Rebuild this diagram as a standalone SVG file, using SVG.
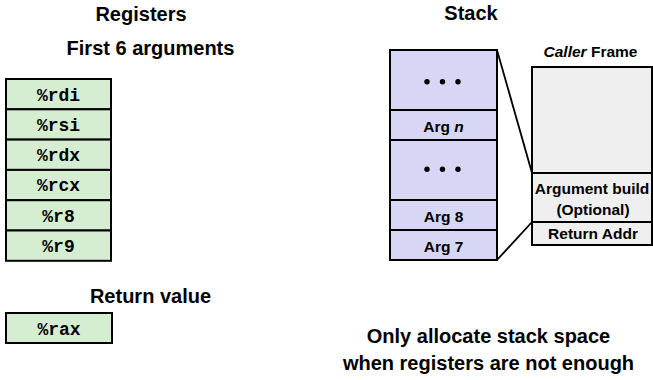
<svg xmlns="http://www.w3.org/2000/svg" width="653" height="380" viewBox="0 0 653 380">
  <style>
    .title { font-family: "Liberation Sans", Arial, sans-serif; font-weight: bold; font-size: 20px; fill: #000; text-anchor: middle; }
    .lbl { font-family: "Liberation Sans", Arial, sans-serif; font-weight: bold; font-size: 15.5px; fill: #000; text-anchor: middle; }
    .reg { font-family: "Liberation Mono", "Courier New", monospace; font-weight: bold; font-size: 18px; fill: #000; text-anchor: middle; }
    .greg { fill: #d5eed1; stroke: #000; stroke-width: 2; }
    .slot { fill: #d7d7f5; stroke: #000; stroke-width: 2; }
    .frame { fill: #efefef; stroke: #000; stroke-width: 2; }
    .conn { stroke: #000; stroke-width: 1.8; fill: none; }
  </style>

  <text class="title" x="141" y="21">Registers</text>
  <text class="title" x="150.5" y="55">First 6 arguments</text>
  <text class="title" x="471" y="20">Stack</text>
  <text class="title" x="150.5" y="303">Return value</text>
  <text class="title" x="488.5" y="343">Only allocate stack space</text>
  <text class="title" x="488.5" y="370">when registers are not enough</text>

  <!-- argument registers -->
  <g id="rdi"><rect class="greg" x="6" y="79" width="105" height="30.3"/><text class="reg" x="58.5" y="100.5">%rdi</text></g>
  <g id="rsi"><rect class="greg" x="6" y="109.3" width="105" height="30.3"/><text class="reg" x="58.5" y="130.8">%rsi</text></g>
  <g id="rdx"><rect class="greg" x="6" y="139.6" width="105" height="30.3"/><text class="reg" x="58.5" y="161.1">%rdx</text></g>
  <g id="rcx"><rect class="greg" x="6" y="169.9" width="105" height="30.3"/><text class="reg" x="58.5" y="191.4">%rcx</text></g>
  <g id="r8"><rect class="greg" x="6" y="200.2" width="105" height="30.3"/><text class="reg" x="58.5" y="221.7">%r8</text></g>
  <g id="r9"><rect class="greg" x="6" y="230.5" width="105" height="30.3"/><text class="reg" x="58.5" y="252">%r9</text></g>

  <!-- return register -->
  <g id="rax"><rect class="greg" x="6" y="313" width="106" height="30"/><text class="reg" x="59" y="334.5">%rax</text></g>

  <!-- stack slots -->
  <g id="stack-top"><rect class="slot" x="390" y="50" width="107" height="60"/>
    <circle cx="427" cy="81.7" r="2.7"/><circle cx="442.5" cy="81.7" r="2.7"/><circle cx="458" cy="81.7" r="2.7"/></g>
  <g id="arg-n"><rect class="slot" x="390" y="110" width="107" height="30"/><text class="lbl" x="443.5" y="131.5">Arg <tspan font-style="italic">n</tspan></text></g>
  <g id="stack-mid"><rect class="slot" x="390" y="140" width="107" height="60"/>
    <circle cx="427" cy="169.3" r="2.7"/><circle cx="442.5" cy="169.3" r="2.7"/><circle cx="458" cy="169.3" r="2.7"/></g>
  <g id="arg-8"><rect class="slot" x="390" y="200" width="107" height="30"/><text class="lbl" x="443.5" y="221.5">Arg 8</text></g>
  <g id="arg-7"><rect class="slot" x="390" y="230" width="107" height="30"/><text class="lbl" x="443.5" y="251.5">Arg 7</text></g>

  <!-- caller frame -->
  <g id="caller-frame">
    <text class="lbl" x="590.5" y="56.5"><tspan font-style="italic">Caller</tspan> Frame</text>
    <rect class="frame" x="532" y="67" width="120" height="106"/>
    <rect class="frame" x="532" y="173" width="120" height="49"/>
    <text class="lbl" x="592" y="193.5">Argument build</text>
    <text class="lbl" x="593" y="215">(Optional)</text>
    <rect class="frame" x="532" y="222" width="120" height="23"/>
    <text class="lbl" x="593" y="239">Return Addr</text>
  </g>

  <g id="connectors">
    <line class="conn" x1="497" y1="50" x2="532" y2="173"/>
    <line class="conn" x1="497" y1="260" x2="532" y2="222"/>
  </g>
</svg>
